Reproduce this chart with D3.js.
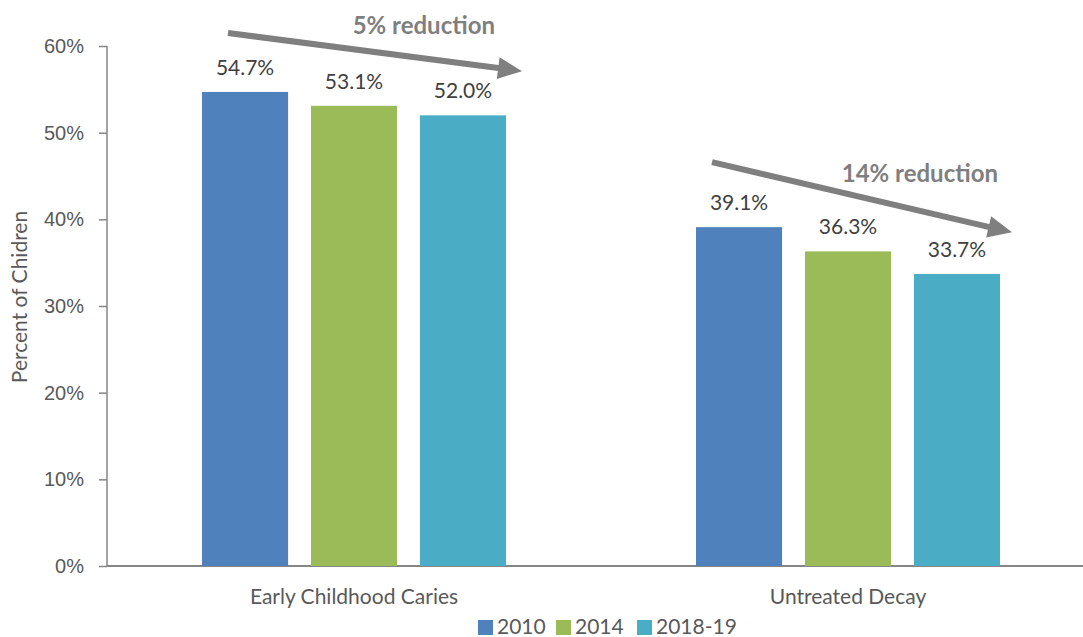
<!DOCTYPE html>
<html><head><meta charset="utf-8">
<script src="https://cdn.jsdelivr.net/npm/d3@7"></script>
<style>body{margin:0;background:#fff;} svg{display:block;font-family:Lato, "Open Sans", sans-serif;}</style>
</head><body>
<svg id="c" width="1083" height="637"></svg>
<script>
const categories = ["Early Childhood Caries", "Untreated Decay"];
const seriesNames = ["2010", "2014", "2018-19"];
const values2010 = [54.7, 39.1];
const values2014 = [53.1, 36.3];
const values2018 = [52.0, 33.7];
const colors = ["#4F81BD", "#9BBB59", "#4BACC6"];
const yTicks = [0, 10, 20, 30, 40, 50, 60];
const arrowLabels = ["5% reduction", "14% reduction"];
// arrow endpoints in value units: [startValue, endValue]
const arrowValues = [[61.5, 57.1], [46.6, 38.5]];

const series = [values2010, values2014, values2018];
const svg = d3.select("#c");
const x = d3.scaleBand().domain(categories).range([107, 1095]);
const y = d3.scaleLinear().domain([0, 60]).range([566, 46]);
const inner = d3.scaleBand().domain(seriesNames).range([0, 304]).paddingInner(0.21);
const groupOffset = (x.bandwidth() - 304) / 2;
const txt = "#595959";
const grey = "#7F7F7F";

// y axis
const ya = svg.append("g").attr("transform", "translate(107,0)")
  .call(d3.axisLeft(y).tickValues(yTicks).tickFormat(d => d + "%").tickSize(8).tickPadding(15));
ya.select(".domain").attr("stroke", "#868686").attr("stroke-width", 1.5).attr("d", "M0,46V566");
ya.selectAll(".tick line").attr("stroke", "#868686").attr("stroke-width", 1.5);
ya.selectAll(".tick text").attr("fill", txt).attr("font-size", 20);

// x axis line
svg.append("line").attr("x1", 107).attr("x2", 1083).attr("y1", y(0)).attr("y2", y(0))
  .attr("stroke", "#868686").attr("stroke-width", 2);

// bars
categories.forEach((cat, ci) => {
  seriesNames.forEach((s, si) => {
    const v = series[si][ci];
    const bx = x(cat) + groupOffset + inner(s);
    svg.append("rect").attr("x", bx).attr("y", y(v)).attr("width", inner.bandwidth())
      .attr("height", y(0) - y(v)).attr("fill", colors[si]);
    svg.append("text").attr("x", bx + inner.bandwidth() / 2).attr("y", y(v) - 17)
      .attr("text-anchor", "middle").attr("fill", "#404040").attr("font-size", 21)
      .text(v.toFixed(1) + "%");
  });
  svg.append("text").attr("x", x(cat) + x.bandwidth() / 2).attr("y", 604)
    .attr("text-anchor", "middle").attr("fill", txt).attr("font-size", 21).text(cat);
});

// arrows (annotation geometry relative to each group)
const arrowStartOffset = [26, 16];
const arrowEndOffset = [320, 316];
const labelEndOffset = [293, 302];
categories.forEach((cat, ci) => {
  const gx = x(cat) + groupOffset;
  const x1 = gx + arrowStartOffset[ci], y1 = y(arrowValues[ci][0]);
  const x2 = gx + arrowEndOffset[ci], y2 = y(arrowValues[ci][1]);
  const ang = Math.atan2(y2 - y1, x2 - x1);
  const hl = 24, hw = 11;
  const bxp = x2 - hl * Math.cos(ang), byp = y2 - hl * Math.sin(ang);
  svg.append("line").attr("x1", x1).attr("y1", y1).attr("x2", bxp + 2 * Math.cos(ang)).attr("y2", byp + 2 * Math.sin(ang))
    .attr("stroke", grey).attr("stroke-width", 6);
  const px = -Math.sin(ang), py = Math.cos(ang);
  svg.append("path").attr("fill", grey)
    .attr("d", `M${x2},${y2}L${bxp + hw * px},${byp + hw * py}L${bxp - hw * px},${byp - hw * py}Z`);
  svg.append("text").attr("x", gx + labelEndOffset[ci]).attr("y", y1 + (ci === 0 ? 1 : 20))
    .attr("text-anchor", "end").attr("fill", grey).attr("font-size", 24).attr("font-weight", "bold")
    .text(arrowLabels[ci]);
});

// axis title
svg.append("text").attr("transform", "translate(27,297) rotate(-90)").attr("text-anchor", "middle")
  .attr("fill", txt).attr("font-size", 21).text("Percent of Chidren");

// legend
const lg = svg.append("g");
let lx = 478;
const legendWidths = [78, 81, 0];
seriesNames.forEach((s, i) => {
  lg.append("rect").attr("x", lx).attr("y", 620).attr("width", 15).attr("height", 15).attr("fill", colors[i]);
  lg.append("text").attr("x", lx + 19).attr("y", 634).attr("fill", txt).attr("font-size", 21).text(s);
  lx += legendWidths[i];
});
</script>
</body></html>
